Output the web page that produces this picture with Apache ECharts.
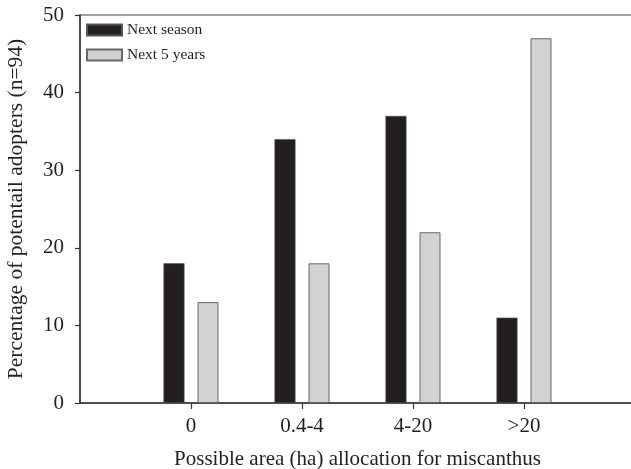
<!DOCTYPE html>
<html>
<head>
<meta charset="utf-8">
<script src="https://cdn.jsdelivr.net/npm/echarts@6/dist/echarts.min.js"></script>
<style>html,body{margin:0;padding:0;background:#fff;}#c{width:631px;height:469px;}</style>
</head>
<body>
<div id="c"></div>
<script>
var categories = ['0', '0.4-4', '4-20', '>20'];
var nextSeason = [18, 34, 37, 11];
var next5Years = [13, 18, 22, 47];
var yTicks = [0, 10, 20, 30, 40, 50];

// pad with empty slots so the axis extends one category beyond each side
function pad(arr, fill) { return [fill].concat(arr).concat([fill]); }

var FONT = '"Liberation Serif", "DejaVu Serif", serif';
var TXT = '#231f20';
var chart = echarts.init(document.getElementById('c'));
chart.setOption({
  animation: false,
  backgroundColor: '#fff',
  grid: {left: 80, top: 15, width: 555, height: 388, outerBoundsMode: 'none', containLabel: false,
    show: true, borderColor: '#444', borderWidth: 1.2},
  legend: {
    orient: 'vertical', left: 81, top: 17, itemWidth: 35, itemHeight: 11, itemGap: 9,
    icon: 'rect',
    textStyle: {fontFamily: FONT, fontSize: 15.5, color: TXT},
    data: ['Next season', 'Next 5 years']
  },
  xAxis: {
    type: 'category',
    boundaryGap: false,
    data: pad(categories, ''),
    axisLine: {lineStyle: {color: '#333', width: 1.5}},
    axisTick: {show: true, length: 6, lineStyle: {color: '#333', width: 1.2},
      interval: function (i) { return i >= 1 && i <= categories.length; }},
    axisLabel: {fontFamily: FONT, fontSize: 21, color: TXT, margin: 13,
      interval: function (i) { return i >= 1 && i <= categories.length; }},
    name: 'Possible area (ha) allocation for miscanthus',
    nameLocation: 'middle', nameGap: 46,
    nameTextStyle: {fontFamily: FONT, fontSize: 21, color: TXT}
  },
  yAxis: {
    type: 'value', min: yTicks[0], max: yTicks[yTicks.length - 1], interval: 10,
    splitLine: {show: false},
    axisLine: {show: true, lineStyle: {color: '#333', width: 1.5}},
    axisTick: {show: true, length: 5, lineStyle: {color: '#333', width: 1.2}},
    axisLabel: {fontFamily: FONT, fontSize: 21, color: TXT, margin: 16},
    name: 'Percentage of potentail adopters (n=94)',
    nameLocation: 'middle', nameGap: 53,
    nameTextStyle: {fontFamily: FONT, fontSize: 21.5, color: TXT}
  },
  series: [
    {name: 'Next season', type: 'bar', data: pad(nextSeason, null), barWidth: 21, barGap: '62%',
      itemStyle: {color: '#231f20', borderColor: '#555', borderWidth: 0.6}},
    {name: 'Next 5 years', type: 'bar', data: pad(next5Years, null), barWidth: 21,
      itemStyle: {color: '#d1d2d4', borderColor: '#666', borderWidth: 1}}
  ]
});
</script>
</body>
</html>
